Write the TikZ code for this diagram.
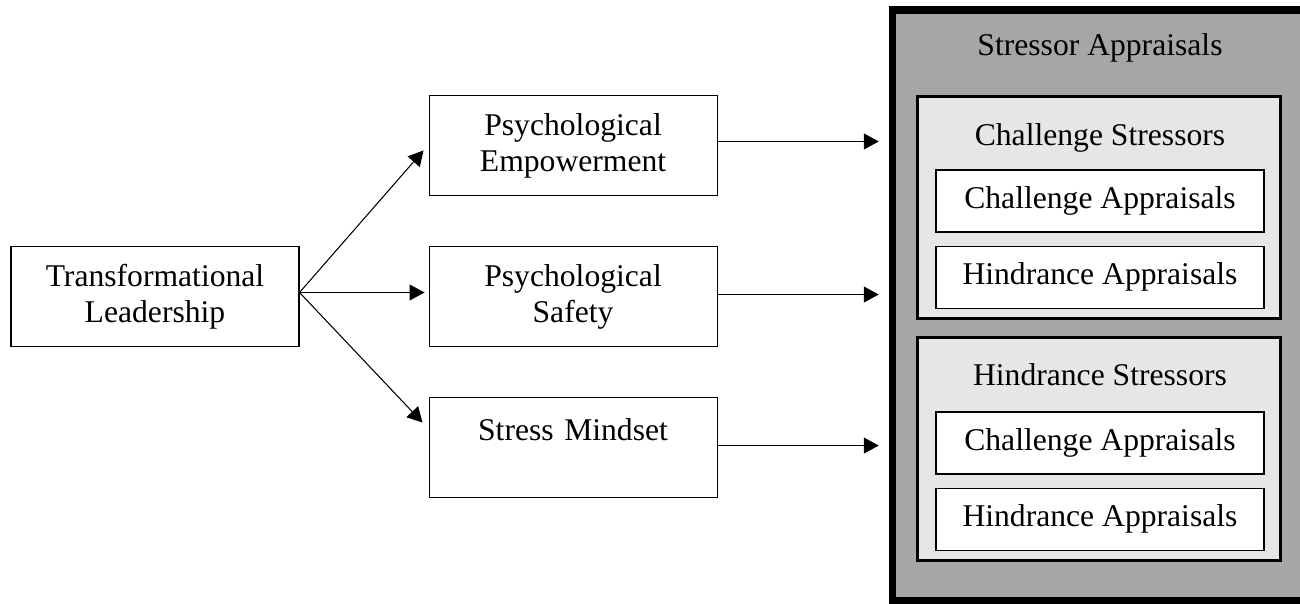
\documentclass[tikz,border=0pt]{standalone}
\usepackage{fontspec}
\setmainfont{Liberation Serif}
\usetikzlibrary{arrows.meta,positioning}
\definecolor{outergray}{RGB}{166,166,166}
\definecolor{innergray}{RGB}{230,230,230}
\tikzstyle{block} = [rectangle, draw, line width=0.6pt, fill=white, text width=5.5cm, inner sep=0.13cm, text centered, minimum width=5.76cm, minimum height=2cm]
\tikzstyle{outerbox} = [rectangle, draw, line width=0.15cm, fill=outergray, minimum width=8.6cm, minimum height=11.81cm]
\tikzstyle{groupbox} = [rectangle, draw, line width=0.06cm, fill=innergray, minimum width=7.26cm, minimum height=4.44cm]
\tikzstyle{smallblock} = [rectangle, draw, line width=0.6pt, fill=white, text centered, minimum width=6.56cm, minimum height=1.24cm]

\begin{document}
\begin{tikzpicture}[node distance=1cm, >={Triangle[length=0.3cm,width=0.32cm]}, font=\fontsize{18}{20.5}\selectfont]
   \useasboundingbox (0,0) rectangle (26,-12.06);
   % left column
   \node[block] (tl) at (3.1,-5.93)               {Transformational\\Leadership};
   \node[block] (ps) [right=2.58cm of tl]        {Psychological\\Safety};
   \node[block] (pe) [above=of ps]               {Psychological\\Empowerment};
   \node[block] (sm) [below=of ps]               {Stress Mindset\\~};

   % stressor appraisals
   \node[outerbox] (sa) at (22.15,-6.105) {};
   \node[anchor=base] (satitle) at (22,-1.1) {Stressor Appraisals};
   \node[groupbox] (cs) at (21.98,-4.15) {};
   \node[anchor=base] (cstitle) at (22,-2.9) {Challenge Stressors};
   \node[smallblock] (ca1) at (22,-4.02)          {Challenge Appraisals};
   \node[smallblock] (ha1) [below=0.26cm of ca1] {Hindrance Appraisals};
   \node[groupbox, minimum height=4.46cm] (hs) at (21.98,-8.98) {};
   \node[anchor=base] (hstitle) at (22,-7.7) {Hindrance Stressors};
   \node[smallblock] (ca2) at (22,-8.86)          {Challenge Appraisals};
   \node[smallblock] (ha2) [below=0.26cm of ca2] {Hindrance Appraisals};

   % edges
   \draw[->, line width=0.6pt] ([yshift=0.08cm]tl.east) -- ([xshift=-0.1cm,yshift=-0.1cm]pe.west);
   \draw[->, line width=0.6pt] ([yshift=0.08cm]tl.east) -- ([xshift=-0.08cm,yshift=0.08cm]ps.west);
   \draw[->, line width=0.6pt] ([yshift=0.08cm]tl.east) -- ([xshift=-0.12cm,yshift=0.5cm]sm.west);
   \draw[->, line width=0.6pt, shorten >=0.2cm] ([yshift=0.08cm]pe.east) -- ([yshift=0.08cm]pe.east -| sa.west);
   \draw[->, line width=0.6pt, shorten >=0.2cm] ([yshift=0.04cm]ps.east) -- ([yshift=0.04cm]ps.east -| sa.west);
   \draw[->, line width=0.6pt, shorten >=0.2cm] ([yshift=0.04cm]sm.east) -- ([yshift=0.04cm]sm.east -| sa.west);
\end{tikzpicture}
\end{document}
